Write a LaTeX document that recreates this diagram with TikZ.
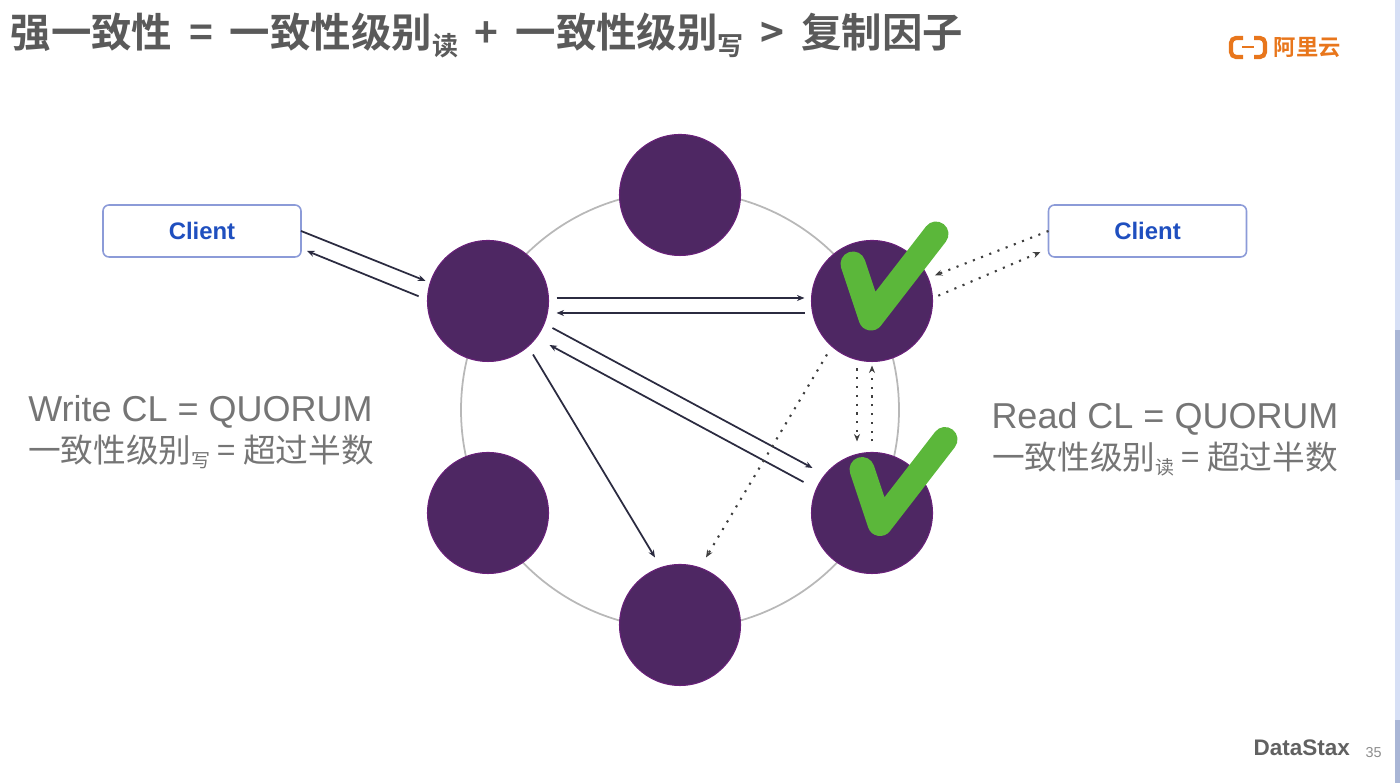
\documentclass[tikz,border=0pt]{standalone}
\usepackage{fontspec}
\setmainfont{Liberation Sans}
\newfontfamily\cjk[BoldFont={Noto Sans CJK SC Bold}]{Noto Sans CJK SC}
\usetikzlibrary{calc,arrows.meta}
\definecolor{ringnode}{HTML}{4E2763}
\definecolor{titlegray}{HTML}{5A5A5A}
\definecolor{labelgray}{HTML}{757575}
\definecolor{clientblue}{HTML}{1F4FBF}
\definecolor{clientedge}{HTML}{8C9BD8}
\definecolor{checkgreen}{HTML}{5BB73A}
\definecolor{logoorange}{HTML}{E8761C}
\definecolor{flowdark}{HTML}{2B2B40}
\definecolor{edgelight}{HTML}{D6DFF5}
\definecolor{edgedark}{HTML}{A9B6D6}
\newcommand{\tgap}{\hspace{.077cm} }
\begin{document}
\begin{tikzpicture}

\useasboundingbox (0,0) rectangle (14,7.83);

\tikzset{ringnode/.style={circle, fill=ringnode, draw=ringnode!85!magenta, line width=.3pt, minimum size=1.21cm, inner sep=0pt, outer sep=0pt}}
\tikzset{client/.style={draw=clientedge, fill=white, rounded corners=.06cm, line width=.45pt, minimum width=1.98cm, minimum height=.52cm, inner sep=0pt, outer sep=0pt, text=clientblue, font=\fontsize{6.8}{8}\selectfont\bfseries}}
\tikzset{flow/.style={flowdark, line width=.5pt, -{Stealth[length=.075cm,width=.06cm]}}}
\tikzset{readflow/.style={flow, black!75, line width=.6pt, dash pattern=on .6pt off 1.9pt}}
\tikzset{check/.style={checkgreen, line width=.25cm, line cap=round, line join=round}}
\tikzset{clabel/.style={text=labelgray, inner sep=0pt, anchor=base}}

\fill[edgelight] (13.95,0) rectangle (14,7.83);
\fill[edgedark] (13.95,3.03) rectangle (14,4.53);
\fill[edgedark] (13.95,0) rectangle (14,.63);

\draw[black!28, line width=.5pt] (6.8,3.73) circle (2.19);

\foreach \name/\x/\y in {nodeA/6.80/5.88, nodeB/4.88/4.82, nodeC/8.72/4.82, nodeD/4.88/2.70, nodeE/8.72/2.70, nodeF/6.80/1.58}
{
\node[ringnode] (\name) at (\x,\y) {};
}

\node[client] (clientL) at (2.02,5.52) {Client};
\node[client] (clientR) at (11.475,5.52) {Client};

\draw[flow] (clientL.east) -- ($ (nodeB.162) + (-.05,.015) $);
\draw[flow] ($ (nodeB.176) + (-.09,.005) $) -- ($ (clientL.south east) + (.06,.06) $);
\draw[flow] ($ (nodeB.east) + (.08,.03) $) -- ($ (nodeC.west) + (-.07,.03) $);
\draw[flow] ($ (nodeC.west) + (-.07,-.12) $) -- ($ (nodeB.east) + (.08,-.12) $);
\draw[flow] ($ (nodeB.east) + (.04,-.27) $) -- ($ (nodeE.west) + (.01,.45) $);
\draw[flow] ($ (nodeE.west) + (-.08,.31) $) -- ($ (nodeB.east) + (.01,-.44) $);
\draw[flow] ($ (nodeB.south) + (.45,.07) $) -- ($ (nodeF.north) + (-.25,.07) $);
\draw[readflow] ($ (nodeC.south) + (-.45,.07) $) -- ($ (nodeF.north) + (.26,.07) $);
\draw[readflow] ($ (nodeC.south) + (-.15,-.07) $) -- ($ (nodeE.north) + (-.15,.11) $);
\draw[readflow] ($ (nodeE.north) + (0,.11) $) -- ($ (nodeC.south) + (0,-.04) $);
\draw[readflow] (clientR.west) -- ($ (nodeC.25) + (.08,.0) $);
\draw[readflow] ($ (nodeC.5) + (.06,0) $) -- ($ (clientR.south west) + (-.08,.05) $);

\foreach \name/\dx/\dy in {nodeC/0/0, nodeE/.09/.065}
{
\draw[check] ($ (\name) + (-.19+\dx,.37+\dy) $) -- ($ (\name) + (-.01+\dx,-.17+\dy) $) -- ($ (\name) + (.64+\dx,.67+\dy) $);
}

\node[inner sep=0pt, anchor=base west, text=titlegray, font=\fontsize{11.5}{14}\selectfont\cjk\bfseries] (title) at (.10,7.35) {强一致性\tgap{}=\tgap{}一致性级别\raisebox{-2.2pt}{\fontsize{7.4}{8}\selectfont 读}\tgap{}+\tgap{}一致性级别\raisebox{-2.2pt}{\fontsize{7.4}{8}\selectfont 写}\tgap{}>\tgap{}复制因子};

\node[clabel, font=\fontsize{10.24}{12}\selectfont] (writecl) at (2.005,3.61) {Write CL = QUORUM};
\node[clabel, font=\fontsize{9.3}{11}\selectfont\cjk] (writeq) at (2.01,3.20) {一致性级别\raisebox{-1.2pt}{\fontsize{5.4}{6}\selectfont 写} = 超过半数};
\node[clabel, font=\fontsize{10.24}{12}\selectfont] (readcl) at (11.65,3.54) {Read CL = QUORUM};
\node[clabel, font=\fontsize{9.3}{11}\selectfont\cjk] (readq) at (11.65,3.13) {一致性级别\raisebox{-1.2pt}{\fontsize{5.4}{6}\selectfont 读} = 超过半数};

\draw[logoorange, line width=1.2pt, rounded corners=.05cm] (12.43,7.45) -- (12.31,7.45) -- (12.31,7.26) -- (12.43,7.26);
\draw[logoorange, line width=1.2pt, rounded corners=.05cm] (12.54,7.45) -- (12.65,7.45) -- (12.65,7.26) -- (12.54,7.26);
\draw[logoorange, line width=.5pt] (12.42,7.36) -- (12.54,7.36);
\node[inner sep=0pt, anchor=base west, text=logoorange, font=\fontsize{6.35}{8}\selectfont\cjk\bfseries] (logo) at (12.73,7.27) {阿里云};

\node[inner sep=0pt, anchor=base west, text=black!62, font=\fontsize{6.4}{8}\selectfont\bfseries] (brand) at (12.53,.27) {DataStax};
\node[inner sep=0pt, anchor=base west, text=black!45, font=\fontsize{4.1}{5}\selectfont] (pageno) at (13.65,.25) {35};

\end{tikzpicture}
\end{document}
